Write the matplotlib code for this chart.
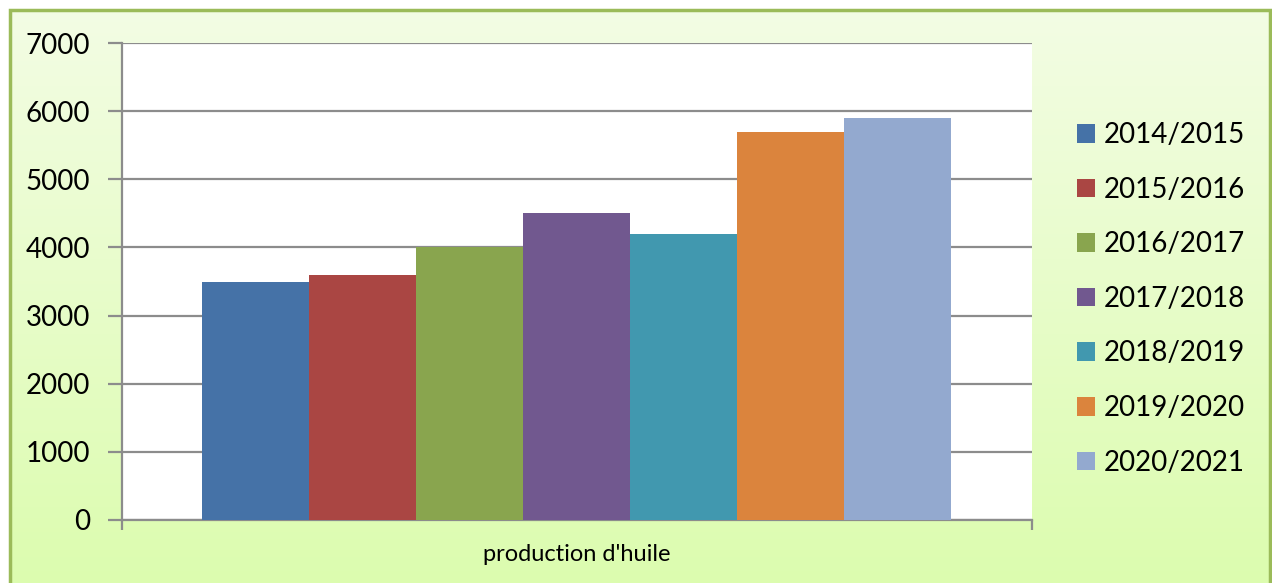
import numpy as np
import matplotlib.pyplot as plt
from matplotlib.patches import Rectangle, Patch
from matplotlib.colors import LinearSegmentedColormap

# production d'huile par campagne
campagnes = ['2014/2015', '2015/2016', '2016/2017', '2017/2018',
             '2018/2019', '2019/2020', '2020/2021']
production = [3500, 3600, 4000, 4500, 4200, 5700, 5900]
couleurs = ['#4572a7', '#aa4643', '#89a54e', '#71588f',
            '#4198af', '#db843d', '#93a9cf']
yticks = [0, 1000, 2000, 3000, 4000, 5000, 6000, 7000]

W, H = 1272, 583
fig = plt.figure(figsize=(W / 100, H / 100), dpi=100)
fig.patch.set_facecolor('white')

# fond dégradé vert clair avec cadre
bg = fig.add_axes([10 / W, 0, 1 - 12 / W, 1 - 10 / H])
cmap = LinearSegmentedColormap.from_list('fond', ['#dcfcaf', '#f3fde4'])
bg.imshow(np.linspace(0, 1, 256).reshape(-1, 1), aspect='auto', cmap=cmap,
          origin='lower', extent=[0, 1, 0, 1])
bg.set_xlim(0, 1)
bg.set_ylim(0, 1)
bg.axis('off')
bg.add_patch(Rectangle((0, -0.01), 1, 1.01, fill=False, edgecolor='#9bbb59',
                       lw=2.5, transform=bg.transAxes, clip_on=False))

ax = fig.add_axes([122 / W, (H - 520) / H, 910 / W, 477 / H])
ax.set_facecolor('white')
x = np.arange(len(production))
ax.bar(x, production, width=1.0, color=couleurs, zorder=3)
ax.set_xlim(-0.5 - 0.75, len(production) - 0.5 + 0.76)
ax.set_ylim(0, 7000)
ax.set_yticks(yticks)
ax.set_yticklabels([str(v) for v in yticks], fontsize=20, family='Lato')
ax.yaxis.grid(True, color='#8c8c8c', lw=1.6, zorder=0)
ax.tick_params(axis='y', length=10, width=1.6, color='#8c8c8c', pad=13)
ax.set_xticks([ax.get_xlim()[0], ax.get_xlim()[1]])
ax.set_xticklabels([])
ax.tick_params(axis='x', length=7, width=1.6, color='#8c8c8c')
for s in ['top', 'right']:
    ax.spines[s].set_visible(False)
for s in ['left', 'bottom']:
    ax.spines[s].set_color('#8c8c8c')
    ax.spines[s].set_linewidth(1.6)
ax.set_xlabel("production d'huile", fontsize=17, family='Lato', labelpad=7)

handles = [Patch(facecolor=c, edgecolor='none') for c in couleurs]
fig.legend(handles, campagnes, loc='upper left',
           bbox_to_anchor=(1052 / W, 1 - 97 / H), frameon=False,
           prop={'family': 'Lato', 'size': 20}, handlelength=0.65,
           handleheight=0.65, handletextpad=0.3, labelspacing=1.03)

fig.savefig('out.png', dpi=100)
